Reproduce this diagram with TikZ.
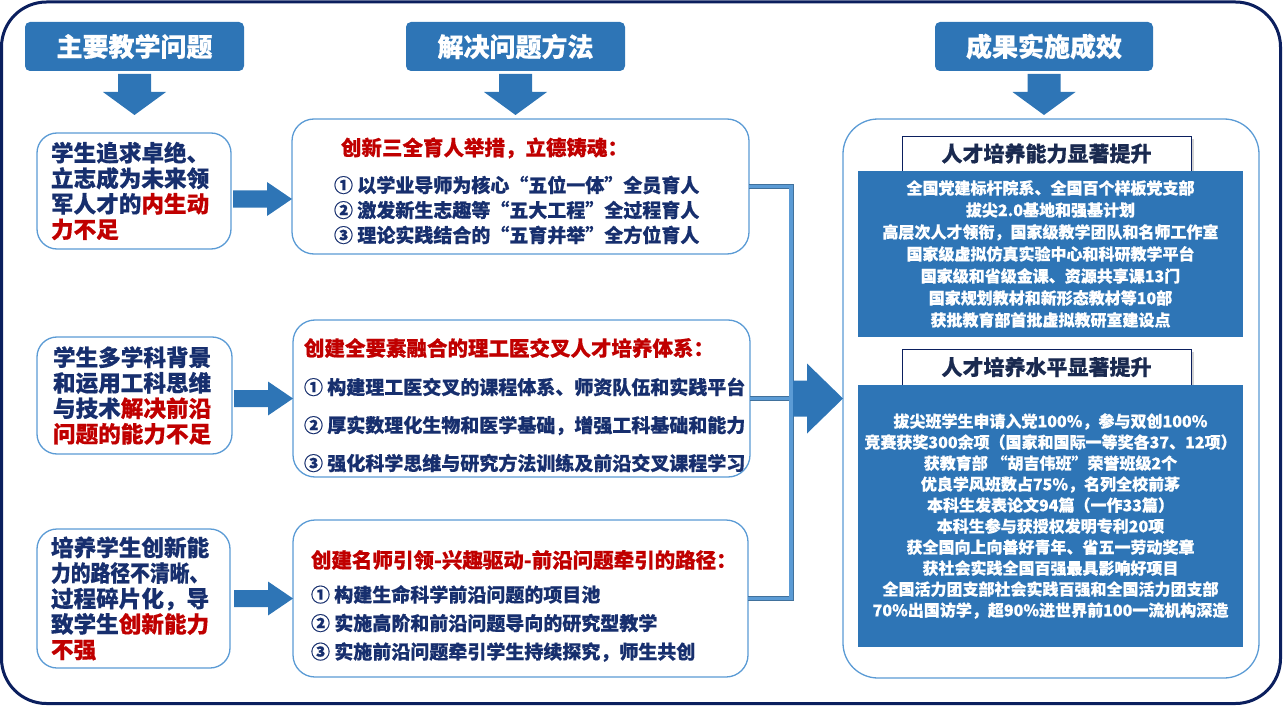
\documentclass[tikz,border=0pt]{standalone}
\usepackage{fontspec}
\usepackage{graphicx}
\setmainfont{Noto Sans CJK SC}[BoldFeatures={FakeBold=0.5}]
\usetikzlibrary{calc,shadows}
\definecolor{blueA}{HTML}{2E75B6}
\definecolor{lineB}{HTML}{5B9BD5}
\definecolor{navyT}{HTML}{172F6E}
\definecolor{redT}{HTML}{C00000}
\definecolor{frameC}{HTML}{0B1F5E}
\definecolor{busD}{HTML}{41719C}
\definecolor{busL}{HTML}{5B9BD5}
\definecolor{subT}{HTML}{1A2A50}
\begin{document}
\begin{tikzpicture}[x=1pt,y=-1pt,
  every node/.style={inner sep=0pt,outer sep=0pt},
  hdr/.style={fill=blueA,rounded corners=5pt,text=white,font=\fontsize{26}{30}\selectfont\bfseries,minimum width=219pt,minimum height=49pt},
  lbox/.style={draw=lineB,line width=1.3pt,fill=white,rounded corners=20pt,text=navyT,font=\fontsize{22.6}{25.5}\selectfont\bfseries,align=left},
  mbox/.style={draw=lineB,line width=1.3pt,fill=white,rounded corners=22pt},
  mtitle/.style={anchor=west,text=redT,font=\fontsize{20.5}{24}\selectfont\bfseries},
  mitems/.style={anchor=west,text=navyT,align=left,font=\fontsize{19}{#1}\selectfont\bfseries},
  rpanel/.style={draw=lineB,line width=1.3pt,fill=white,rounded corners=35pt},
  subbox/.style={draw=frameC,line width=0.8pt,fill=white,minimum width=289pt,text=subT,font=\fontsize{21}{24}\selectfont\bfseries,drop shadow={shadow xshift=3pt,shadow yshift=-3pt,opacity=0.35}},
  bbox/.style={fill=blueA,minimum width=385pt,text=white,align=center,font=\fontsize{16}{#1}\selectfont\bfseries},
  busline/.style={draw=busD,double=busL,line width=0.7pt,double distance=3.6pt},
  arrowfill/.style={fill=blueA}
]
\useasboundingbox (0,0) rectangle (1283,706);
% outer frame
\draw[frameC,line width=3pt,rounded corners=45pt] (1.5,2) rectangle (1280.5,703.5);

% headers
\node[hdr] (h1) at (134.5,46.5) {主要教学问题};
\node[hdr] (h2) at (515.5,46.5) {解决问题方法};
\node[hdr,minimum width=218pt] (h3) at (1044,46.5) {成果实施成效};
\foreach \h in {h1,h2,h3}{
  \fill[arrowfill] ($(\h.south)+(-16.5,3)$) -- ++(33,0) -- ++(0,18) -- ++(15,0)
    -- ++(-31.5,23) -- ++(-31.5,-23) -- ++(15,0) -- cycle;
}

% left boxes
\node[lbox,minimum width=194pt,minimum height=116pt,text width=166pt,inner xsep=14pt] (l1) at (134,191)
  {学生追求卓绝、\\立志成为未来领\\军人才的\textcolor{redT}{内生动}\\\textcolor{redT}{力不足}};
\node[lbox,minimum width=195pt,minimum height=117pt,text width=163pt,inner xsep=16pt] (l2) at (134.5,395.5)
  {学生多学科背景\\和运用工科思维\\与技术\textcolor{redT}{解决前沿}\\\textcolor{redT}{问题的能力不足}};
\node[lbox,minimum width=193pt,minimum height=139pt,text width=165pt,inner xsep=14pt] (l3) at (133.5,598.5)
  {培养学生创新能\\\scalebox{0.875}[1]{力的路径不清晰、}\\过程碎片化，导\\致学生\textcolor{redT}{创新能力}\\\textcolor{redT}{不强}};

% middle boxes
\node[mbox,minimum width=457pt,minimum height=135pt] (m1) at (520.5,186.5) {};
\node[mtitle] (m1h) at (341,148) {创新三全育人举措，立德铸魂：};
\node[mitems=25] (m1i) at (334,210)
  {① 以学业导师为核心“五位一体”全员育人\\② 激发新生志趣等“五大工程”全过程育人\\③ 理论实践结合的“五育并举”全方位育人};

\node[mbox,minimum width=457pt,minimum height=157pt] (m2) at (521.5,398.5) {};
\node[mtitle] (m2h) at (304,348) {创建全要素融合的理工医交叉人才培养体系：};
\node[mitems=38] (m2i) at (304,425)
  {① 构建理工医交叉的课程体系、师资队伍和实践平台\\② 厚实数理化生物和医学基础，增强工科基础和能力\\③ 强化科学思维与研究方法训练及前沿交叉课程学习};

\node[mbox,minimum width=455pt,minimum height=157pt] (m3) at (520.5,598.5) {};
\node[mtitle] (m3h) at (311,560) {创建名师引领-兴趣驱动-前沿问题牵引的路径：};
\node[mitems=28.5] (m3i) at (311,623.5)
  {① 构建生命科学前沿问题的项目池\\② 实施高阶和前沿问题导向的研究型教学\\③ 实施前沿问题牵引学生持续探究，师生共创};

% arrows left -> middle
\foreach \b/\dy in {m1/12.5,m2/0,m3/0}{
  \fill[arrowfill] ($(\b.west)+(0,\dy)$) -- ++(-25,-17) -- ++(0,8.5) -- ++(-34,0)
    -- ++(0,17) -- ++(34,0) -- ++(0,8.5) -- cycle;
}

% right panel
\node[rpanel,minimum width=416pt,minimum height=559pt] (r) at (1051,398.5) {};

% bus
\coordinate (bus) at (791,0);
\draw[busline] (m2.east) -- (m2.east -| bus);
\draw[busline] (m1.east) -- (m1.east -| bus) -- (m3.east -| bus) -- (m3.east);

% big arrow
\fill[arrowfill] (r.west) -- ++(-36,-35) -- ++(0,17) -- ++(-14,0) -- ++(0,36)
  -- ++(14,0) -- ++(0,17) -- cycle;

% right contents
\node[subbox,minimum height=35pt] (s1) at (1046.5,153.5) {人才培养能力显著提升};
\node[bbox=22,minimum height=166pt] (b1) at (1050.5,254)
  {全国党建标杆院系、全国百个样板党支部\\拔尖2.0基地和强基计划\\高层次人才领衔，国家级教学团队和名师工作室\\国家级虚拟仿真实验中心和科研教学平台\\国家级和省级金课、资源共享课13门\\国家规划教材和新形态教材等10部\\获批教育部首批虚拟教研室建设点};

\node[subbox,minimum height=36pt] (s2) at (1046.5,367) {人才培养水平显著提升};
\node[bbox=21,minimum height=262pt] (b2) at (1050.5,516)
  {拔尖班学生申请入党100\%，参与双创100\%\\竞赛获奖300余项（国家和国际一等奖各37、12项）\\获教育部 “胡吉伟班”荣誉班级2个\\优良学风班数占75\%，名列全校前茅\\本科生发表论文94篇（一作33篇）\\本科生参与获授权发明专利20项\\获全国向上向善好青年、省五一劳动奖章\\获社会实践全国百强最具影响好项目\\全国活力团支部社会实践百强和全国活力团支部\\70\%出国访学，超90\%进世界前100一流机构深造};
\end{tikzpicture}
\end{document}
